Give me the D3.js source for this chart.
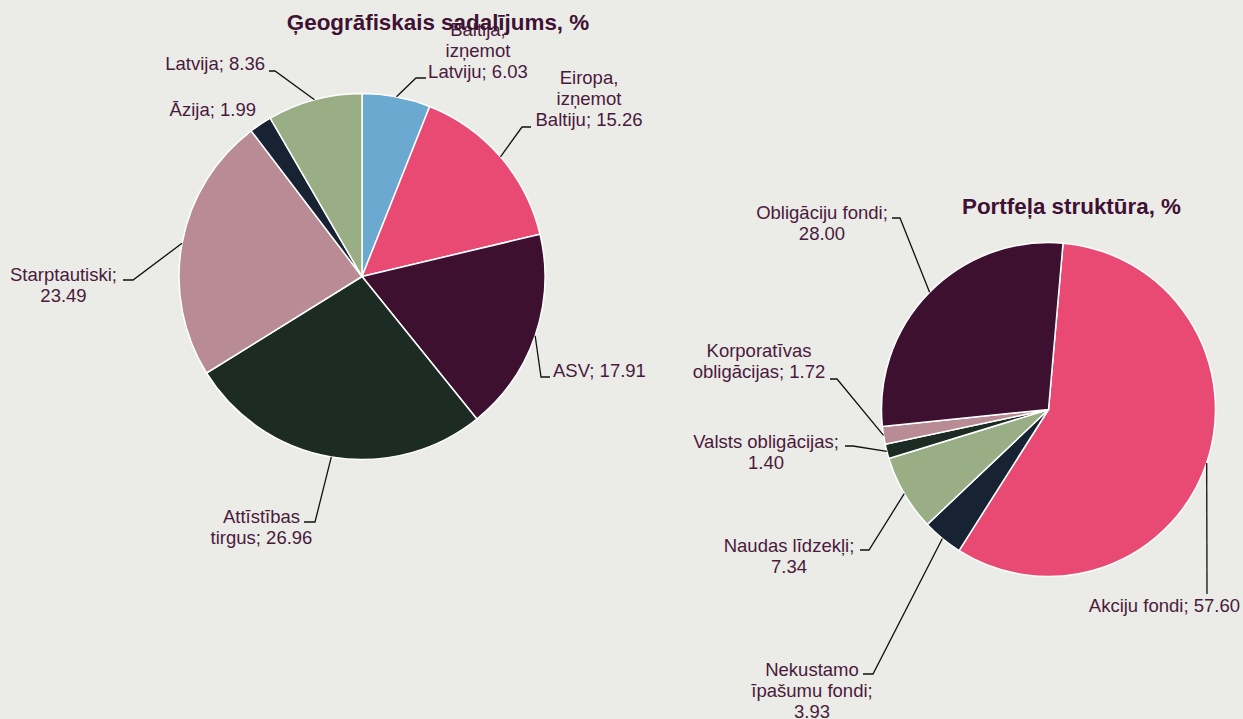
<!DOCTYPE html>
<html>
<head>
<meta charset="utf-8">
<script src="https://cdn.jsdelivr.net/npm/d3@7"></script>
<style>
  body { margin: 0; background: #ebebe7; }
  svg { display: block; }
  text { font-family: "Liberation Sans", Arial, sans-serif; }
</style>
</head>
<body>
<svg id="chart" width="1243" height="719"></svg>
<script>
// ---------- data

const geoTitle = 'Ģeogrāfiskais sadalījums, %';
const geoNames = ['Baltija, izņemot Latviju', 'Eiropa, izņemot Baltiju', 'ASV', 'Attīstības tirgus',
  'Starptautiski', 'Āzija', 'Latvija'];
const geoValues = [6.03, 15.26, 17.91, 26.96, 23.49, 1.99, 8.36];
const geoColors = ['#6ca9d1', '#e94a74', '#3d1030', '#1c2b24', '#b98b94', '#172333', '#9aae86'];

const portTitle = 'Portfeļa struktūra, %';
const portNames = ['Akciju fondi', 'Nekustamo īpašumu fondi', 'Naudas līdzekļi', 'Valsts obligācijas',
  'Korporatīvas obligācijas', 'Obligāciju fondi'];
const portValues = [57.60, 3.93, 7.34, 1.40, 1.72, 28.00];
const portColors = ['#e94a74', '#172333', '#9aae86', '#1c2b24', '#b98b94', '#3d1030'];

// ---------- label layout (where each text block and leader elbow sits)

const geoLabelLayout = [
  {breaks: [1, 2], x: 478, y: 36, anchor: 'middle', elbow: [416, 78], end: [426, 78]},
  {breaks: [1, 2], x: 589, y: 84, anchor: 'middle', elbow: [522, 127], end: [531, 127]},
  {breaks: [], x: 553, y: 377, anchor: 'start', elbow: [541, 377], end: [550, 377]},
  {breaks: [1], x: 261.5, y: 523, anchor: 'middle', elbow: [315, 522], end: [304, 522]},
  {breaks: [1], x: 63.5, y: 281, anchor: 'middle', elbow: [133, 280], end: [123, 280]},
  {breaks: [], x: 256, y: 116, anchor: 'end', elbow: null, end: null},
  {breaks: [], x: 265, y: 70, anchor: 'end', elbow: [275, 71], end: [269, 71]}
];

const portLabelLayout = [
  {breaks: [], x: 1240, y: 612, anchor: 'end', elbow: [1207, 594], end: null},
  {breaks: [1, 3], x: 812, y: 676, anchor: 'middle', elbow: [873, 674], end: [863, 674]},
  {breaks: [2], x: 789, y: 552, anchor: 'middle', elbow: [869, 550], end: [860, 550]},
  {breaks: [2], x: 766, y: 448, anchor: 'middle', elbow: [853, 446], end: [845, 446]},
  {breaks: [1], x: 759, y: 357, anchor: 'middle', elbow: [837, 379], end: [830, 379]},
  {breaks: [2], x: 822, y: 219, anchor: 'middle', elbow: [900, 218], end: [892, 218]}
];

const labelColor = '#4a1a3d';
const titleColor = '#3f1133';
const lineHeight = 21;

const svg = d3.select('#chart');

// split "name; value" into lines after the given word counts
function labelLines(name, value, breaks) {
  const words = `${name}; ${value.toFixed(2)}`.split(' ');
  const lines = [];
  let from = 0;
  breaks.concat([words.length]).forEach(b => {
    lines.push(words.slice(from, b).join(' '));
    from = b;
  });
  return lines;
}

function drawPie(opts) {
  const {cx, cy, r, startDeg, names, values, colors, layout, title, titleX, titleY} = opts;
  const a0 = startDeg * Math.PI / 180;

  const pie = d3.pie()
    .sort(null)
    .value(d => d)
    .startAngle(a0)
    .endAngle(a0 + 2 * Math.PI);

  const arc = d3.arc().innerRadius(0).outerRadius(r);
  const edge = d3.arc().innerRadius(r).outerRadius(r);

  const arcs = pie(values);

  const g = svg.append('g')
    .attr('transform', `translate(${cx}, ${cy})`);

  g.selectAll('path.slice')
    .data(arcs)
    .join('path')
    .attr('class', 'slice')
    .attr('d', arc)
    .attr('fill', (d, i) => colors[i])
    .attr('stroke', '#ffffff')
    .attr('stroke-width', 1.5)
    .attr('stroke-linejoin', 'round');

  // leader lines
  arcs.forEach((d, i) => {
    const L = layout[i];
    if (!L.elbow) return;
    const c = edge.centroid(d);
    const pts = [[cx + c[0], cy + c[1]], L.elbow];
    if (L.end) pts.push(L.end);
    svg.append('path')
      .attr('d', d3.line()(pts))
      .attr('fill', 'none')
      .attr('stroke', '#111111')
      .attr('stroke-width', 1.3);
  });

  // labels
  arcs.forEach((d, i) => {
    const L = layout[i];
    const t = svg.append('text')
      .attr('x', L.x)
      .attr('y', L.y)
      .attr('text-anchor', L.anchor)
      .attr('font-size', '18.5px')
      .attr('fill', labelColor);
    labelLines(names[i], values[i], L.breaks).forEach((line, k) => {
      t.append('tspan')
        .attr('x', L.x)
        .attr('y', L.y + k * lineHeight)
        .text(line);
    });
  });

  svg.append('text')
    .attr('x', titleX)
    .attr('y', titleY)
    .attr('text-anchor', 'middle')
    .attr('font-size', '22.4px')
    .attr('font-weight', 'bold')
    .attr('fill', titleColor)
    .text(title);
}

drawPie({
  cx: 362, cy: 276.5, r: 183, startDeg: 0,
  names: geoNames, values: geoValues, colors: geoColors, layout: geoLabelLayout,
  title: geoTitle, titleX: 438, titleY: 30
});

drawPie({
  cx: 1048.5, cy: 409.5, r: 167, startDeg: 5,
  names: portNames, values: portValues, colors: portColors, layout: portLabelLayout,
  title: portTitle, titleX: 1071.5, titleY: 214
});
</script>
</body>
</html>
